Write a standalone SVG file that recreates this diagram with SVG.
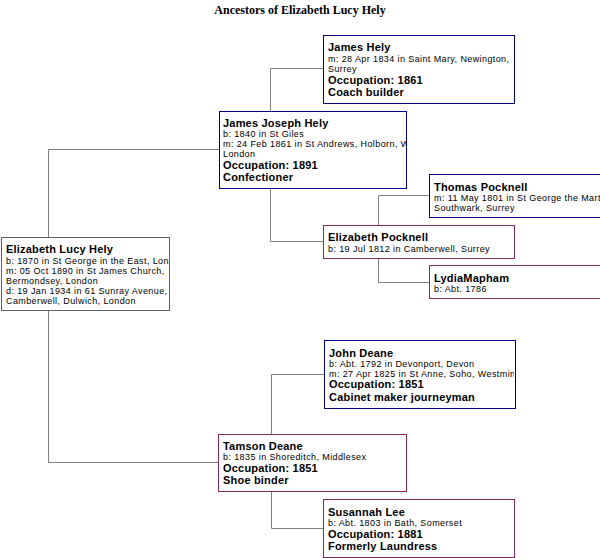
<svg xmlns="http://www.w3.org/2000/svg" width="600" height="558" viewBox="0 0 600 558">
<style>
.b{fill:#fff;stroke-width:1}
.m{stroke:#000080}.f{stroke:#8b2a5a}
.n{font:bold 11px "Liberation Sans",Arial,sans-serif;fill:#000;letter-spacing:0.2px}
.d{font:9px "Liberation Sans",Arial,sans-serif;fill:#000;letter-spacing:0.4px}
.c{stroke:#808080;fill:none;stroke-width:1}
</style>
<defs>
<clipPath id="c1"><rect x="323" y="35" width="191" height="68"/></clipPath>
<clipPath id="c2"><rect x="219" y="111" width="187" height="77"/></clipPath>
<clipPath id="c3"><rect x="429" y="174" width="171" height="43"/></clipPath>
<clipPath id="c4"><rect x="323" y="225" width="191" height="33"/></clipPath>
<clipPath id="c5"><rect x="429" y="265" width="171" height="33"/></clipPath>
<clipPath id="c6"><rect x="2" y="237" width="167" height="73"/></clipPath>
<clipPath id="c7"><rect x="324" y="340" width="190" height="68"/></clipPath>
<clipPath id="c8"><rect x="218" y="434" width="188" height="57"/></clipPath>
<clipPath id="c9"><rect x="323" y="499" width="191" height="58"/></clipPath>
</defs>
<rect width="600" height="558" fill="#fff"/>
<text x="300" y="14" text-anchor="middle" style="font:bold 12px 'Liberation Serif','Times New Roman',serif">Ancestors of Elizabeth Lucy Hely</text>
<g id="connectors" class="c">
<path d="M219.5 149.5H48.5V462.5H218"/>
<path d="M323 68.5H270.5V241.5H323"/>
<path d="M429 195.5H378.5V282.5H429"/>
<path d="M324 374.5H271.5V528.5H323"/>
</g>
<g id="james-hely"><rect class="b m" x="323.5" y="35.5" width="191" height="68"/>
<g clip-path="url(#c1)"><text class="n" x="328" y="51">James Hely</text><text class="d" x="328" y="62">m: 28 Apr 1834 in Saint Mary, Newington,</text><text class="d" x="328" y="72">Surrey</text><text class="n" x="328" y="84">Occupation: 1861</text><text class="n" x="328" y="96">Coach builder</text></g></g>
<g id="james-joseph-hely"><rect class="b m" x="219.5" y="111.5" width="187" height="77"/>
<g clip-path="url(#c2)"><text class="n" x="223" y="127">James Joseph Hely</text><text class="d" x="223" y="137">b: 1840 in St Giles</text><text class="d" x="223" y="147">m: 24 Feb 1861 in St Andrews, Holborn, Westminster,</text><text class="d" x="223" y="157">London</text><text class="n" x="223" y="169">Occupation: 1891</text><text class="n" x="223" y="181">Confectioner</text></g></g>
<g id="thomas-pocknell"><rect class="b m" x="429.5" y="174.5" width="171" height="43"/>
<g clip-path="url(#c3)"><text class="n" x="434" y="191">Thomas Pocknell</text><text class="d" x="434" y="201">m: 11 May 1801 in St George the Martyr,</text><text class="d" x="434" y="211">Southwark, Surrey</text></g></g>
<g id="elizabeth-pocknell"><rect class="b f" x="323.5" y="225.5" width="191" height="33"/>
<g clip-path="url(#c4)"><text class="n" x="328" y="241">Elizabeth Pocknell</text><text class="d" x="328" y="252">b: 19 Jul 1812 in Camberwell, Surrey</text></g></g>
<g id="lydia-mapham"><rect class="b f" x="429.5" y="265.5" width="171" height="33"/>
<g clip-path="url(#c5)"><text class="n" x="434" y="282">LydiaMapham</text><text class="d" x="434" y="292">b: Abt. 1786</text></g></g>
<g id="elizabeth-lucy-hely"><rect class="b" stroke="#606060" x="1.5" y="237.5" width="168" height="73"/>
<g clip-path="url(#c6)"><text class="n" x="6" y="253">Elizabeth Lucy Hely</text><text class="d" x="6" y="264">b: 1870 in St George in the East, London</text><text class="d" x="6" y="274">m: 05 Oct 1890 in St James Church,</text><text class="d" x="6" y="284">Bermondsey, London</text><text class="d" x="6" y="294">d: 19 Jan 1934 in 61 Sunray Avenue,</text><text class="d" x="6" y="304">Camberwell, Dulwich, London</text></g></g>
<g id="john-deane"><rect class="b m" x="324.5" y="340.5" width="191" height="68"/>
<g clip-path="url(#c7)"><text class="n" x="329" y="357">John Deane</text><text class="d" x="329" y="367">b: Abt. 1792 in Devonport, Devon</text><text class="d" x="329" y="377">m: 27 Apr 1825 in St Anne, Soho, Westminster</text><text class="n" x="329" y="388">Occupation: 1851</text><text class="n" x="329" y="401">Cabinet maker journeyman</text></g></g>
<g id="tamson-deane"><rect class="b f" x="218.5" y="434.5" width="188" height="57"/>
<g clip-path="url(#c8)"><text class="n" x="223" y="450">Tamson Deane</text><text class="d" x="223" y="460">b: 1835 in Shoreditch, Middlesex</text><text class="n" x="223" y="472">Occupation: 1851</text><text class="n" x="223" y="484">Shoe binder</text></g></g>
<g id="susannah-lee"><rect class="b f" x="323.5" y="499.5" width="191" height="58"/>
<g clip-path="url(#c9)"><text class="n" x="328" y="516">Susannah Lee</text><text class="d" x="328" y="526">b: Abt. 1803 in Bath, Somerset</text><text class="n" x="328" y="538">Occupation: 1881</text><text class="n" x="328" y="550">Formerly Laundress</text></g></g>
</svg>
